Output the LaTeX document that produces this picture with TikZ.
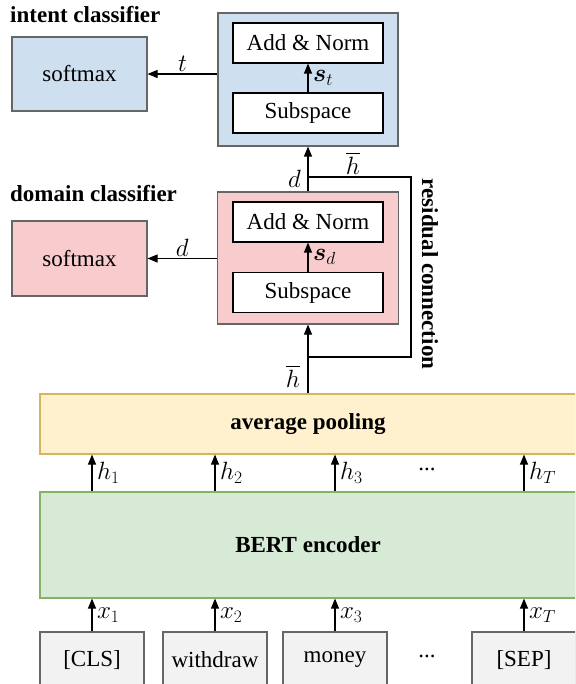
\RequirePackage{fix-cm}
\documentclass[tikz,border=0pt]{standalone}
\usepackage{amsmath}
\usepackage{fontspec}
\setmainfont{Liberation Serif}
\usetikzlibrary{arrows.meta}

\definecolor{bluefill}{RGB}{206,223,239}
\definecolor{pinkfill}{RGB}{248,203,204}
\definecolor{yellowfill}{RGB}{255,241,206}
\definecolor{yellowline}{RGB}{214,182,86}
\definecolor{greenfill}{RGB}{215,234,213}
\definecolor{greenline}{RGB}{130,179,102}
\definecolor{tokenfill}{RGB}{242,242,242}
\definecolor{boxline}{RGB}{102,102,102}

\tikzset{
  txt/.style={font=\fontsize{23}{27}\selectfont},
  box/.style={draw=boxline, line width=1.1pt, rectangle, inner sep=0pt, txt},
  inner/.style={draw=black, line width=1.1pt, fill=white, rectangle, inner sep=0pt,
                minimum width=150pt, minimum height=40pt, txt},
  token/.style={box, fill=tokenfill, minimum width=104pt, minimum height=56pt},
  arr/.style={line width=1.1pt, -{Triangle[length=10pt,width=8pt]}},
  plain/.style={line width=1.1pt},
  lbl/.style={inner sep=1.5pt, font=\fontsize{25}{29}\selectfont},
  rlbl/.style={lbl, right, xshift=3pt},
  title/.style={font=\fontsize{23}{27}\selectfont\bfseries, inner sep=0pt}
}

\begin{document}
\begin{tikzpicture}[x=1pt,y=-1pt]
\path[use as bounding box] (0,0) rectangle (575,684);
\clip (0,0) rectangle (575,684);

% intent branch
\node[title, anchor=west] (ititle) at (10,15) {intent classifier};
\node[box, fill=bluefill, minimum width=135pt, minimum height=74pt] (isoft) at (79.5,74) {softmax};
\node[box, fill=bluefill, minimum width=180pt, minimum height=133pt] (ibox) at (308,79.5) {};
\node[inner] (iadd) at (308,43) {Add \& Norm};
\node[inner] (isub) at (308,113) {Subspace};
\draw[arr] (isub.north) -- (iadd.south) node[rlbl, midway] {$\boldsymbol{s}_t$};
\draw[arr] (ibox.west |- isoft.east) -- (isoft.east) node[lbl, midway, above] {$t$};

% domain branch
\node[title, anchor=west] (dtitle) at (10,194) {domain classifier};
\node[box, fill=pinkfill, minimum width=135pt, minimum height=75pt] (dsoft) at (79.5,258.5) {softmax};
\node[box, fill=pinkfill, minimum width=181pt, minimum height=132pt] (dbox) at (308,258) {};
\node[inner] (dadd) at (308,222) {Add \& Norm};
\node[inner] (dsub) at (308,292.5) {Subspace};
\draw[arr] (dsub.north) -- (dadd.south) node[rlbl, midway] {$\boldsymbol{s}_d$};
\draw[arr] (dbox.west |- dsoft.east) -- (dsoft.east) node[lbl, midway, above] {$d$};

% pooling and encoder
\node[box, draw=yellowline, fill=yellowfill, minimum width=536pt, minimum height=60pt,
      font=\fontsize{23}{27}\selectfont\bfseries] (pool) at (308,424) {average pooling};
\node[box, draw=greenline, fill=greenfill, minimum width=536pt, minimum height=106pt,
      font=\fontsize{23}{27}\selectfont\bfseries] (bert) at (308,545) {BERT encoder};

% connections between the blocks
\draw[arr] (pool.north) -- (dbox.south) node[lbl, pos=0.25, left, xshift=-6pt] {$\overline{h}$};
\draw[arr] (dbox.north) -- (ibox.south) node[lbl, pos=0.28, left, xshift=-5pt] {$d$};
\coordinate (rlow) at (308,357);
\coordinate (rhigh) at (308,177);
\draw[plain] (rlow) -- (411,357) -- (411,177) -- (rhigh);
\node[lbl] (hbar) at (353,163) {$\overline{h}$};
\node[title, rotate=-90] (resid) at (430,274) {residual connection};

% tokens
\node[token] (t1) at (92,660) {[CLS]};
\node[token] (t2) at (215,660) {withdraw};
\node[token] (t3) at (335,660) {money};
\node[token] (t4) at (524,660) {[SEP]};
\node[txt] (tdots) at (427,656) {...};

\foreach \t/\i in {t1/1, t2/2, t3/3, t4/T}{
  \draw[arr] (\t.north) -- (\t.north |- bert.south) node[rlbl, midway] {$x_{\i}$};
  \draw[arr] (\t.north |- bert.north) -- (\t.north |- pool.south) node[rlbl, midway] {$h_{\i}$};
}
\node[txt] (hdots) at (427,469) {...};
\end{tikzpicture}
\end{document}
